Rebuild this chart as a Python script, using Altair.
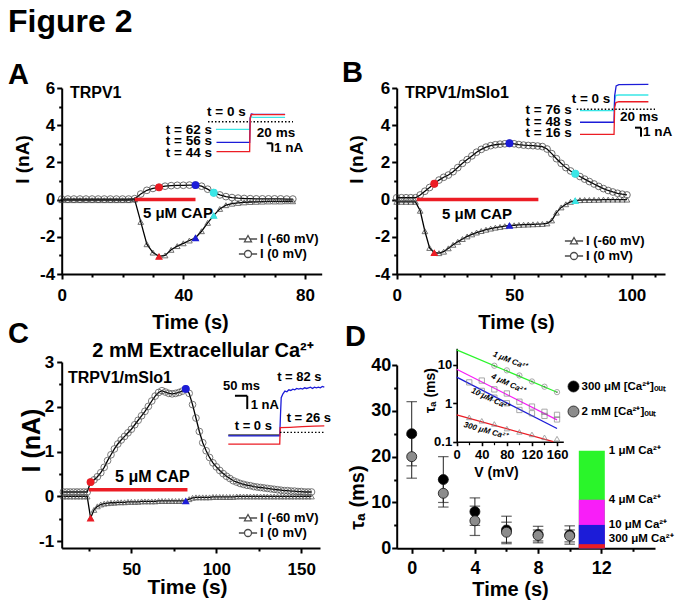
import altair as alt
import pandas as pd

FONT = "Liberation Sans"
VW, VH, M = 667, 593, 8
RED, BLUE, CYAN = "#ec1c24", "#1c1cd8", "#3ae6e6"
GREEN, MAGENTA = "#2af52a", "#f81ef8"
SERIES = ["I (-60 mV)", "I (0 mV)"]

# ===================== DATA =====================
# Panel A  (TRPV1)
A_time = list(range(0, 77, 2))
A_i_0mV = [0.03, 0.03, 0.03, 0.03, 0.03, 0.03, 0.03, 0.03, 0.03, 0.03, 0.03, 0.03,
           0.05, 0.30, 0.50, 0.60, 0.66, 0.72, 0.75, 0.77, 0.77, 0.78, 0.78, 0.72,
           0.56, 0.37, 0.25, 0.16, 0.11, 0.08, 0.06, 0.05,
           0.04, 0.04, 0.04, 0.04, 0.04, 0.03, 0.03]
A_i_m60 = [-0.03, -0.03, -0.03, -0.03, -0.03, -0.03, -0.03, -0.03, -0.03, -0.03, -0.03, -0.03,
           0.0, -1.2, -2.4, -2.85, -3.05, -3.0, -2.7, -2.5, -2.35, -2.2, -2.05, -1.7,
           -1.25, -0.85, -0.5, -0.3, -0.22, -0.18, -0.15, -0.13,
           -0.12, -0.11, -0.1, -0.1, -0.1, -0.09, -0.09]
A_mark_t = [32, 44, 50]
A_mark_0mV = [0.66, 0.78, 0.37]
A_mark_m60 = [-3.05, -2.05, -0.85]
A_cap = [24, 44, 0.0]

# Panel B  (TRPV1/mSlo1)
B_time = list(range(0, 99, 2))
B_i_0mV = [0.1, 0.1, 0.1, 0.1, 0.1,
           0.25, 0.45, 0.65, 0.85, 1.05, 1.2, 1.32, 1.5, 1.72, 1.95, 2.15, 2.35, 2.55, 2.7,
           2.82, 2.9, 2.95, 2.98, 3.0, 3.03, 3.0, 2.96, 2.93, 2.91, 2.9, 2.88, 2.85, 2.72,
           2.47, 2.2, 1.95, 1.72, 1.54, 1.39, 1.24, 1.1, 0.97, 0.84, 0.71, 0.59, 0.49, 0.41,
           0.34, 0.29, 0.25]
B_i_m60 = [-0.12, -0.12, -0.12, -0.12, -0.12,
           -0.6, -1.7, -2.6, -2.85, -2.88, -2.8, -2.62, -2.43, -2.27, -2.12, -1.98, -1.87,
           -1.77, -1.69, -1.62, -1.56, -1.51, -1.47, -1.43, -1.39, -1.38, -1.36, -1.35, -1.34,
           -1.33, -1.32, -1.31, -1.28, -1.12, -0.7, -0.42, -0.25, -0.12, -0.05,
           -0.03, -0.02, -0.02, -0.01, -0.01, 0.0, 0.0, 0.0, 0.0, 0.0, 0.0]
B_mark_t = [16, 48, 76]
B_mark_0mV = [0.85, 3.03, 1.39]
B_mark_m60 = [-2.85, -1.39, -0.05]
B_cap = [8.5, 60.3, 0.0]

# Panel C  (2 mM extracellular Ca2+)
C_time = list(range(10, 157, 2))
C_i_0mV = [0.1, 0.1, 0.1, 0.1, 0.1, 0.1, 0.1, 0.1,
           0.32, 0.37, 0.44, 0.53, 0.65, 0.8, 0.93, 1.06, 1.17, 1.26, 1.34, 1.42, 1.5,
           1.6, 1.7, 1.8, 1.9, 2.01, 2.13, 2.24, 2.32, 2.36, 2.33, 2.3, 2.29, 2.3, 2.32, 2.35,
           2.4, 2.3, 2.05, 1.75, 1.45, 1.2, 1.02, 0.87, 0.75, 0.66, 0.58, 0.51, 0.45, 0.4, 0.35,
           0.32, 0.29, 0.27, 0.25, 0.24, 0.22, 0.21, 0.2, 0.19, 0.18, 0.17, 0.16, 0.15, 0.14, 0.13,
           0.13, 0.12, 0.12, 0.11, 0.11, 0.1, 0.1, 0.1]
C_i_m60 = [0.0, 0.0, 0.0, 0.0, 0.0, 0.0, 0.0, 0.0,
           -0.48, -0.3, -0.22, -0.18, -0.16, -0.15,
           -0.14, -0.14, -0.13, -0.13, -0.13, -0.12, -0.12, -0.12, -0.12, -0.11, -0.11,
           -0.11, -0.11, -0.11, -0.1, -0.1, -0.1, -0.1, -0.1, -0.1, -0.1, -0.1,
           -0.1, -0.06, -0.03,
           -0.02, -0.02, -0.02, -0.02, -0.02,
           -0.01, -0.01, -0.01, -0.01, -0.01, -0.01, -0.01,
           0.0, 0.0, 0.0, 0.0, 0.0, 0.0, 0.0, 0.0, 0.0, 0.0, 0.0, 0.0, 0.0, 0.0, 0.0, 0.0,
           0.0, 0.0, 0.0, 0.0, 0.0, 0.0, 0.0]
C_mark_t = [26, 82]
C_mark_0mV = [0.32, 2.4]
C_mark_m60 = [-0.48, -0.1]
C_cap = [25, 83, 0.15]

# Inset current traces (ms, nA)
A_trace_names = ["t = 62 s", "t = 56 s", "t = 44 s"]
A_trace_ms = [[28, 147, 149, 152, 160, 272], [30, 147, 149, 153, 162, 272], [30, 147, 149, 153, 162, 272]]
A_trace_nA = [[-0.92, -0.92, 0.3, 0.58, 0.53, 0.53], [-2.48, -2.48, 0.5, 0.92, 0.89, 0.89],
              [-3.61, -3.61, 0.4, 0.88, 0.85, 0.85]]
A_base_ms, A_base_nA = [0, 300], [0, 0]

B_trace_names = ["t = 76 s", "t = 48 s", "t = 16 s"]
B_trace_ms = [[11, 124, 126, 130, 140, 238], [11, 124, 126, 131, 140, 238], [11, 124, 126, 130, 140, 238]]
B_trace_nA = [[-0.15, -0.15, 1.0, 1.55, 1.59, 1.59], [-1.44, -1.44, 1.5, 2.6, 2.75, 2.78],
              [-2.78, -2.78, 0.2, 0.75, 0.84, 0.84]]
B_base_ms, B_base_nA = [0, 260], [0, 0]

C_trace_names = ["t = 0 s", "t = 82 s", "t = 26 s"]
C_trace_ms = [[0, 209],
              [0, 209, 212, 215, 222, 230, 238, 246, 254, 262, 270, 278, 286, 294, 302, 310, 318,
               326, 334, 342, 350, 358, 366, 374, 382, 390],
              [0, 209, 211, 250, 300, 350, 390]]
C_trace_nA = [[0, 0],
              [-0.07, -0.07, 1.5, 2.8, 3.1, 3.3, 3.25, 3.4, 3.35, 3.45, 3.4, 3.5, 3.45, 3.5, 3.45,
               3.55, 3.5, 3.55, 3.6, 3.5, 3.6, 3.55, 3.6, 3.55, 3.65, 3.6],
              [-0.68, -0.68, 0.55, 0.58, 0.63, 0.66, 0.68]]
C_base_ms, C_base_nA = [210, 390], [0.2, 0.2]

# Panel D
D_time = [0, 2, 4, 6, 8, 10]
D_tau_300uM = [25, 15, 8, 4, 3, 2.9]
D_err_300uM = [7, 5, 3, 3, 1.8, 2.0]
D_tau_2mM = [20, 12, 6, 3.5, 2.8, 2.7]
D_err_2mM = [4.7, 3, 3.2, 2.2, 1.2, 1.3]
D_SERIES = ["300 \u03bcM [Ca\u00b2\u207a]\u2092\u1d64\u209c", "2 mM [Ca\u00b2\u207a]\u2092\u1d64\u209c"]
BAR_CA = ["1 \u03bcM Ca\u00b2\u207a", "4 \u03bcM Ca\u00b2\u207a", "10 \u03bcM Ca\u00b2\u207a", "300 \u03bcM Ca\u00b2\u207a"]
BAR_TAU = [21.3, 10.6, 5.1, 0.9]
BAR_T = 11.4

INS_V = {"1": [60, 80, 100, 120, 140, 160],
         "4": [40, 60, 80, 100, 120, 140, 160],
         "10": [20, 40, 60, 80, 100, 120, 140, 160],
         "300": [20, 40, 60, 80, 100, 120, 140, 160]}
INS_TAU = {"1": [9.5, 7.2, 5.3, 3.7, 2.7, 1.95],
           "4": [3.9, 2.3, 1.8, 1.1, 0.82, 0.6, 0.5],
           "10": [3.5, 2.1, 1.4, 1.0, 0.67, 0.55, 0.47, 0.38],
           "300": [0.43, 0.35, 0.29, 0.22, 0.18, 0.155, 0.13, 0.12]}
FIT_V0 = {"1": 0, "4": 0, "10": 0, "300": 0}
FIT_TAU0 = {"1": 24.6, "4": 7.7, "10": 4.8, "300": 0.5}
FIT_V1 = {"1": 160, "4": 160, "10": 160, "300": 154}
FIT_TAU1 = {"1": 1.94, "4": 0.37, "10": 0.22, "300": 0.1}

# ===================== LAYOUT FRAMES (page pixels) =====================
FR = {
    "A": dict(xd=[0, 85.5], xr=[61.7, 321.7], yd=[-4, 6], yr=[274, 88]),
    "B": dict(xd=[0, 114.2], xr=[396.7, 665], yd=[-4, 6], yr=[274, 88]),
    "C": dict(xd=[9, 161], xr=[61.7, 320], yd=[-1.15, 3], yr=[548, 362]),
    "D": dict(xd=[-0.95, 15.4], xr=[396.7, 655], yd=[0, 40], yr=[548.3, 365]),
    "Ai": dict(xd=[0, 300], xr=[208, 293], yd=[-4, 1], yr=[154.9, 113.4]),
    "Bi": dict(xd=[0, 260], xr=[576.7, 655], yd=[-3, 3.5], yr=[136.3, 77.8]),
    "Ci": dict(xd=[0, 390], xr=[228.3, 324.3], yd=[-1, 4], yr=[448.3, 381.8]),
    "Di": dict(xd=[0, 170], xr=[456.7, 563.3], yd=[0.1, 27], yr=[441.7, 348.3], ylog=True),
    "P": dict(xd=[0, 683], xr=[0, 683], yd=[0, 609], yr=[0, 609]),
}
NEG = "datum.value < 0 ? '-' + (-datum.value) : '' + datum.value"


def sc(fr, ax):
    f = FR[fr]
    d, r = f[ax + "d"], f[ax + "r"]
    typ = "log" if (ax == "y" and f.get("ylog")) else "linear"
    return alt.Scale(type=typ, domain=d, range=[r[0] - M, r[1] - M], nice=False, zero=False, padding=0)


def X(field, fr, axis=None):
    return alt.X(field, type="quantitative", scale=sc(fr, "x"), axis=axis)


def Y(field, fr, axis=None):
    return alt.Y(field, type="quantitative", scale=sc(fr, "y"), axis=axis)


def ax_left(fr, values, labels=True, tick=5, width=2.0, fs=17, pad=2, domain=True, title=None, tpos=None, tfs=19):
    x0 = FR[fr]["xr"][0]
    kw = dict(orient="left", offset=-(x0 - M), values=values, labels=labels, tickSize=tick, tickWidth=width,
              domain=domain, domainWidth=width, labelFontSize=fs, labelPadding=pad, labelExpr=NEG)
    if title:
        kw.update(title=title, titleFontSize=tfs, titleAngle=270, titleAlign="center", titleBaseline="middle",
                  titleX=tpos[0] - x0, titleY=tpos[1] - M)
    else:
        kw["title"] = None
    return alt.Axis(**kw)


def ax_bottom(fr, values, labels=True, tick=5, width=2.0, fs=17, pad=8, domain=True, title=None, tpos=None, tfs=20):
    y0 = FR[fr]["yr"][0]
    kw = dict(orient="bottom", offset=(y0 - M) - VH, values=values, labels=labels, tickSize=tick, tickWidth=width,
              domain=domain, domainWidth=width, labelFontSize=fs, labelPadding=pad, labelExpr=NEG)
    if title:
        kw.update(title=title, titleFontSize=tfs, titleAlign="center", titleBaseline="middle",
                  titleX=tpos[0] - M, titleY=tpos[1] - y0)
    else:
        kw["title"] = None
    return alt.Axis(**kw)


def texts(fr, rows, size, align="left", baseline="middle", angle=None, italic=False):
    df = pd.DataFrame(rows, columns=["x", "y", "label"])
    kw = dict(font=FONT, fontWeight="bold", fontSize=size, align=align, baseline=baseline, color="black")
    if angle is not None:
        kw["angle"] = angle
    if italic:
        kw["fontStyle"] = "italic"
    return alt.Chart(df).mark_text(**kw).encode(x=X("x", fr), y=Y("y", fr), text="label:N")


TRI_PATH = "M-1.3,0L-0.28,0M0.28,0L1.3,0M-0.5,0.4L0,-0.5L0.5,0.4Z"
CIRC_PATH = "M-1.3,0L-0.5,0M0.5,0L1.3,0M0.5,0A0.5,0.5,0,1,1,-0.5,0A0.5,0.5,0,1,1,0.5,0Z"


def legend_layer(fr, lx, ly):
    df = pd.DataFrame({"series": SERIES, "x": [0, 0], "y": [0, 0]})
    return alt.Chart(df).transform_filter("datum.x > 1").mark_point(
        filled=False, color="black", strokeWidth=1.3).encode(
        x=X("x", fr), y=Y("y", fr),
        shape=alt.Shape("series:N", scale=alt.Scale(domain=SERIES, range=[TRI_PATH, CIRC_PATH]),
                        legend=alt.Legend(orient="none", legendX=lx - M, legendY=ly - M, title=None,
                                          labelFont=FONT, labelFontSize=13, labelFontWeight="bold",
                                          labelColor="black", symbolSize=196, symbolStrokeWidth=1.3,
                                          symbolStrokeColor="black", symbolFillColor="white",
                                          rowPadding=0, labelOffset=4, padding=0)))


def panel_series(fr, time, i0, im, xmaj, ymaj, xmin, ymin, xtitle, ytitle, mstroke="#333",
                 csize=45, tsize=32, xfs=17, tfs_x=20, tfs_y=19, xpad=8, ypad=2):
    df = pd.DataFrame({"t": time, "i0": i0, "im": im})
    out = []
    out.append(alt.Chart(df).mark_line(color="black", strokeWidth=1.3).encode(
        x=X("t", fr, ax_bottom(fr, xmaj, fs=xfs, pad=xpad, title="Time (s)", tpos=xtitle, tfs=tfs_x)),
        y=Y("im", fr, ax_left(fr, ymaj, fs=xfs, pad=ypad, title="I (nA)", tpos=ytitle, tfs=tfs_y))))
    out.append(alt.Chart(df).mark_line(color="black", strokeWidth=1.3).encode(
        x=X("t", fr), y=Y("i0", fr)))
    out.append(alt.Chart(df).mark_point(shape="triangle-up", filled=False, color=mstroke, size=tsize,
                                        strokeWidth=1).encode(
        x=X("t", fr, ax_bottom(fr, xmin, labels=False, domain=False, tick=3)),
        y=Y("im", fr, ax_left(fr, ymin, labels=False, domain=False, tick=3))))
    out.append(alt.Chart(df).mark_point(shape="circle", filled=False, color=mstroke, size=csize,
                                        strokeWidth=1).encode(x=X("t", fr), y=Y("i0", fr)))
    return out


def marked_layer(fr, times, vals, shape, colors):
    keys = [str(t) for t in times]
    df = pd.DataFrame({"t": times, "v": vals, "k": keys})
    return alt.Chart(df).mark_point(shape=shape, filled=True, size=62, opacity=1).encode(
        x=X("t", fr), y=Y("v", fr),
        color=alt.Color("k:N", scale=alt.Scale(domain=keys, range=colors), legend=None))


def cap_layer(fr, cap):
    df = pd.DataFrame({"t0": [cap[0]], "t1": [cap[1]], "lvl": [cap[2]]})
    return alt.Chart(df).mark_rule(color=RED, strokeWidth=3.5).encode(
        x=X("t0", fr), x2=alt.X2("t1"), y=Y("lvl", fr))


def trace_layer(fr, names, ms, nA, colors, width=1.3):
    rows = []
    for n, xs, ys in zip(names, ms, nA):
        for a, b in zip(xs, ys):
            rows.append((n, a, b))
    df = pd.DataFrame(rows, columns=["trace", "ms", "nA"])
    return alt.Chart(df).mark_line(strokeWidth=width).encode(
        x=X("ms", fr), y=Y("nA", fr),
        color=alt.Color("trace:N", scale=alt.Scale(domain=names, range=colors), legend=None))


def dotted_layer(fr, ms, nA, color="black"):
    df = pd.DataFrame({"ms": ms, "nA": nA})
    return alt.Chart(df).mark_line(color=color, strokeWidth=1.4, strokeDash=[1.5, 2]).encode(
        x=X("ms", fr), y=Y("nA", fr))


def scalebar(fr, segs):
    df = pd.DataFrame(segs, columns=["x", "x2", "y", "y2"])
    return alt.Chart(df).mark_rule(color="black", strokeWidth=2).encode(
        x=X("x", fr), x2=alt.X2("x2"), y=Y("y", fr), y2=alt.Y2("y2"))


layers = []

# ---------------- Panel A ----------------
layers += panel_series("A", A_time, A_i_0mV, A_i_m60, [0, 40, 80], [-4, -2, 0, 2, 4, 6],
                       [10, 20, 30, 50, 60, 70], [-3, -1, 1, 3, 5], (190, 322), (22, 159))
layers.append(marked_layer("A", A_mark_t, A_mark_0mV, "circle", [RED, BLUE, CYAN]))
layers.append(marked_layer("A", A_mark_t, A_mark_m60, "triangle-up", [RED, BLUE, CYAN]))
layers.append(cap_layer("A", A_cap))
layers.append(texts("A", [(2.7, 5.73, "TRPV1")], 16))
layers.append(texts("A", [(26.7, -0.72, "5 \u03bcM CAP")], 15))
layers.append(legend_layer("A", 240, 231))
layers.append(dotted_layer("Ai", A_base_ms, A_base_nA))
layers.append(trace_layer("Ai", A_trace_names, A_trace_ms, A_trace_nA, [CYAN, BLUE, RED]))
layers.append(texts("Ai", [(14, -1.0, "t = 62 s"), (14, -2.33, "t = 56 s"), (14, -3.77, "t = 44 s")], 13.5, align="right"))
layers.append(texts("Ai", [(65, 1.11, "t = 0 s"), (240, -1.36, "20 ms")], 13.5, align="center"))
layers.append(texts("Ai", [(233, -3.13, "1 nA")], 13.5))
layers.append(scalebar("Ai", [(207, 227, -2.6, -2.6), (227, 227, -2.6, -3.6)]))

# ---------------- Panel B ----------------
layers += panel_series("B", B_time, B_i_0mV, B_i_m60, [0, 50, 100], [-4, -2, 0, 2, 4, 6],
                       [10, 20, 30, 40, 60, 70, 80, 90, 110], [-3, -1, 1, 3, 5], (516, 322), (356, 159))
layers.append(marked_layer("B", B_mark_t, B_mark_0mV, "circle", [RED, BLUE, CYAN]))
layers.append(marked_layer("B", B_mark_t, B_mark_m60, "triangle-up", [RED, BLUE, CYAN]))
layers.append(cap_layer("B", B_cap))
layers.append(texts("B", [(3.5, 5.73, "TRPV1/mSlo1")], 16))
layers.append(texts("B", [(19.3, -0.77, "5 \u03bcM CAP")], 15))
layers.append(legend_layer("B", 566, 233))
layers.append(dotted_layer("Bi", B_base_ms, B_base_nA))
layers.append(trace_layer("Bi", B_trace_names, B_trace_ms, B_trace_nA, [CYAN, BLUE, RED]))
layers.append(texts("Bi", [(-16.6, -0.08, "t = 76 s"), (-16.6, -1.38, "t = 48 s"), (-16.6, -2.67, "t = 16 s")], 13.5, align="right"))
layers.append(texts("Bi", [(47.5, 1.14, "t = 0 s"), (207, -0.89, "20 ms")], 13.5, align="center"))
layers.append(texts("Bi", [(220, -2.49, "1 nA")], 13.5))
layers.append(scalebar("Bi", [(193.6, 213.5, -2.04, -2.04), (213.5, 213.5, -2.04, -3.04)]))

# ---------------- Panel C ----------------
layers += panel_series("C", C_time, C_i_0mV, C_i_m60, [50, 100, 150], [-1, 0, 1, 2, 3],
                       [25, 75, 125], [-0.5, 0.5, 1.5, 2.5], (187, 587), (31, 440),
                       mstroke="#444", tfs_x=21, tfs_y=25, ypad=3)
layers.append(marked_layer("C", C_mark_t, C_mark_0mV, "circle", [RED, BLUE]))
layers.append(marked_layer("C", C_mark_t, C_mark_m60, "triangle-up", [RED, BLUE]))
layers.append(cap_layer("C", C_cap))
layers.append(texts("C", [(12.7, 2.64, "TRPV1/mSlo1")], 16))
layers.append(texts("C", [(40.4, 0.43, "5 \u03bcM CAP")], 16))
layers.append(legend_layer("C", 240, 510))
layers.append(trace_layer("Ci", C_trace_names, C_trace_ms, C_trace_nA, ["#444444", BLUE, RED]))
layers.append(dotted_layer("Ci", C_base_ms, C_base_nA))
layers.append(texts("Ci", [(379, 4.38, "t = 82 s")], 13, align="right"))
layers.append(texts("Ci", [(237, 1.26, "t = 26 s"), (91, 2.26, "1 nA")], 13))
layers.append(texts("Ci", [(101.6, 0.7, "t = 0 s"), (53.6, 3.7, "50 ms")], 13, align="center"))
layers.append(scalebar("Ci", [(27, 77, 2.95, 2.95), (77, 77, 2.95, 1.95)]))

# ---------------- Panel D ----------------
dfBar = pd.DataFrame({"ca": BAR_CA, "tau": BAR_TAU, "t": [BAR_T] * 4, "base": [0.0] * 4})
layers.append(alt.Chart(dfBar).mark_bar(size=26).encode(
    x=X("t", "D", ax_bottom("D", [0, 4, 8, 12], fs=18, pad=6, title="Time (s)", tpos=(510, 589))),
    y=Y("tau", "D", ax_left("D", [0, 10, 20, 30, 40], fs=18, pad=1, title="\u03c4\u2090 (ms)", tpos=(357, 497), tfs=20)),
    y2=alt.Y2("base"),
    color=alt.Color("ca:N", scale=alt.Scale(domain=BAR_CA, range=[GREEN, MAGENTA, BLUE, RED]), legend=None)))
layers.append(alt.Chart(dfBar).transform_calculate(ly="max(datum.tau, 2.0)").mark_text(
    font=FONT, fontWeight="bold", fontSize=11.5, align="left", baseline="middle", dx=17, color="black").encode(
    x=X("t", "D"), y=Y("ly", "D"), text="ca:N"))

rows = []
for s, taus, errs in ((D_SERIES[0], D_tau_300uM, D_err_300uM), (D_SERIES[1], D_tau_2mM, D_err_2mM)):
    for t, m, e in zip(D_time, taus, errs):
        rows.append((s, t, m, m - e, m + e))
dfD = pd.DataFrame(rows, columns=["series", "t", "tau", "lo", "hi"])
layers.append(alt.Chart(dfD).mark_rule(color="#222", strokeWidth=1).encode(
    x=X("t", "D", ax_bottom("D", [2, 6, 10, 14], labels=False, domain=False, tick=3)),
    y=Y("lo", "D", ax_left("D", [5, 15, 25, 35], labels=False, domain=False, tick=3)), y2=alt.Y2("hi")))
for col in ("lo", "hi"):
    layers.append(alt.Chart(dfD).mark_point(shape="stroke", size=110, filled=False, color="#222", strokeWidth=1.2).encode(
        x=X("t", "D"), y=Y(col, "D")))
layers.append(alt.Chart(dfD).mark_point(filled=True, size=100, opacity=1, stroke="#111", strokeWidth=0.8).encode(
    x=X("t", "D"), y=Y("tau", "D"),
    color=alt.Color("series:N", scale=alt.Scale(domain=D_SERIES, range=["black", "#8c8c8c"]),
                    legend=alt.Legend(orient="none", legendX=567.5 - M, legendY=380.5 - M, title=None,
                                      labelFont=FONT, labelFontSize=11.5, labelFontWeight="bold",
                                      labelColor="black", symbolType="circle", symbolSize=120,
                                      symbolStrokeColor="#111", symbolStrokeWidth=0.8,
                                      rowPadding=9, labelOffset=2, padding=0, labelLimit=200))))

# inset of panel D: tau_a vs V on log axis
conc = ["1", "4", "10", "300"]
conc_col = [GREEN, MAGENTA, BLUE, RED]
dfFit = pd.DataFrame({"c": conc, "v0": [FIT_V0[c] for c in conc], "t0": [FIT_TAU0[c] for c in conc],
                      "v1": [FIT_V1[c] for c in conc], "t1": [FIT_TAU1[c] for c in conc]})
layers.append(alt.Chart(dfFit).mark_rule(strokeWidth=1.3).encode(
    x=X("v0", "Di", ax_bottom("Di", [0, 40, 80, 120, 160], fs=13, pad=3, tick=4, width=1.6,
                              title="V (mV)", tpos=(496, 472), tfs=14)),
    y=Y("t0", "Di", ax_left("Di", [0.1, 1, 10], fs=13, pad=1, tick=4, width=1.6,
                            title="\u03c4\u2090 (ms)", tpos=(430, 390), tfs=14)),
    x2=alt.X2("v1"), y2=alt.Y2("t1"),
    color=alt.Color("c:N", scale=alt.Scale(domain=conc, range=conc_col), legend=None)))
prow = []
for c in conc:
    for vv, tt in zip(INS_V[c], INS_TAU[c]):
        prow.append((c, vv, tt))
dfIns = pd.DataFrame(prow, columns=["c", "V", "tau"])
layers.append(alt.Chart(dfIns).mark_point(filled=False, color="#777", size=28, strokeWidth=0.9).encode(
    x=X("V", "Di", ax_bottom("Di", [20, 60, 100, 140], labels=False, domain=False, tick=3, width=1.2)),
    y=Y("tau", "Di"),
    shape=alt.Shape("c:N", scale=alt.Scale(domain=conc, range=["circle", "square", "square", "triangle-up"]),
                    legend=None)))
layers.append(alt.Chart(dfIns).transform_filter("datum.c == '1'").mark_point(
    filled=True, color="#555", size=3).encode(x=X("V", "Di"), y=Y("tau", "Di")))
layers.append(texts("Di", [(85, 12.7, "1 \u03bcM Ca\u00b2\u207a")], 8, align="center", angle=22, italic=True))
layers.append(texts("Di", [(82, 3.19, "4 \u03bcM Ca\u00b2\u207a")], 8, align="center", angle=25, italic=True))
layers.append(texts("Di", [(53, 1.29, "10 \u03bcM Ca\u00b2\u207a")], 8, align="center", angle=25, italic=True))
layers.append(texts("Di", [(46, 0.19, "300 \u03bcM Ca\u00b2\u207a")], 8, align="center", angle=16, italic=True))

# ---------------- figure-level labels ----------------
layers.append(texts("P", [(8, 32, "Figure 2")], 32, baseline="alphabetic"))
layers.append(texts("P", [(8, 84, "A"), (342, 82, "B"), (8, 343, "C"), (345, 346, "D")], 29, baseline="alphabetic"))
layers.append(texts("P", [(203, 357, "2 mM Extracellular Ca\u00b2\u207a")], 20, align="center", baseline="alphabetic"))

chart = alt.layer(*layers).resolve_scale(
    x="independent", y="independent", color="independent", shape="independent"
).resolve_axis(x="independent", y="independent").resolve_legend(
    color="independent", shape="independent"
).properties(
    width=VW, height=VH, autosize=alt.AutoSizeParams(type="none"), padding=0, background="white"
).configure_view(stroke=None).configure_axis(
    grid=False, labelFlush=False, labelOverlap=False, labelFont=FONT, labelFontWeight="bold",
    titleFont=FONT, titleFontWeight="bold", domainColor="black", tickColor="black",
    labelColor="black", titleColor="black"
)

chart.save("out.html", embed_options={"renderer": "svg", "actions": False})
